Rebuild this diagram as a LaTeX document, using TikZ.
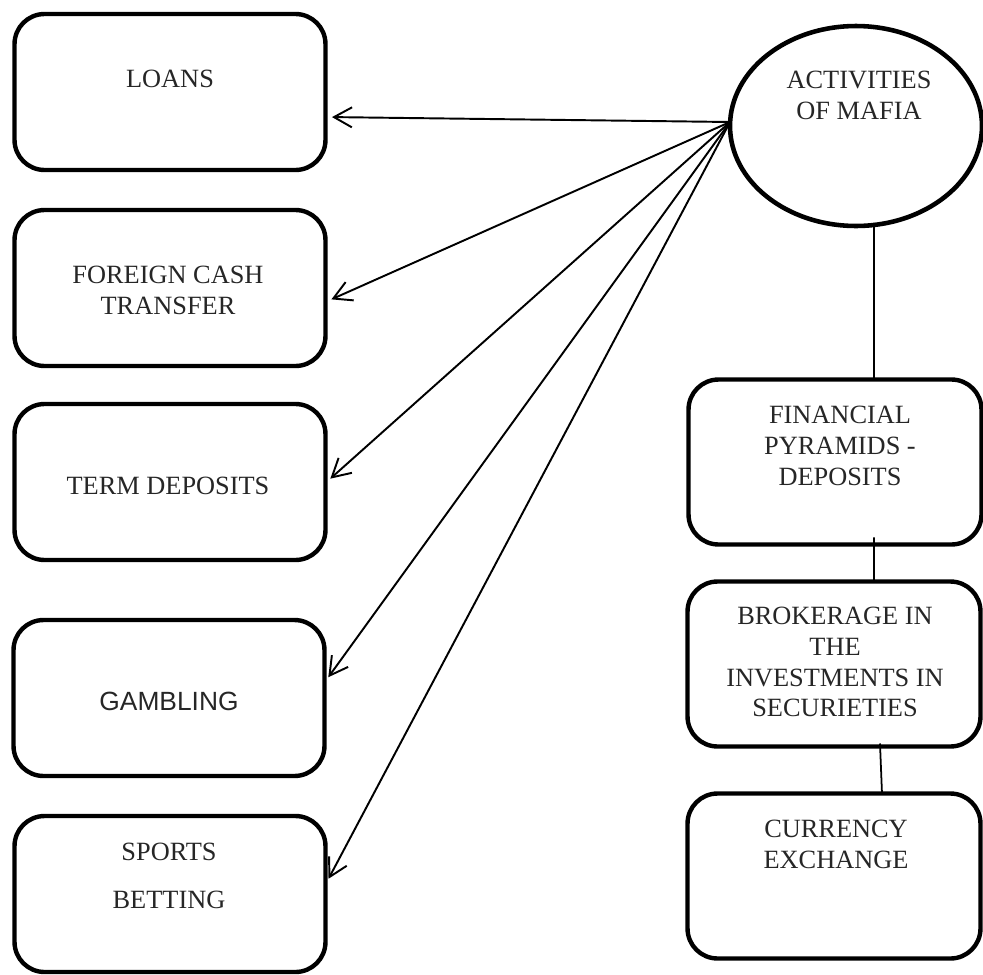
\documentclass[tikz,border=0pt]{standalone}
\usepackage{fontspec}
\setmainfont{Liberation Serif}
\newfontfamily\gamblefont{Liberation Sans}
\usetikzlibrary{arrows.meta, shapes.geometric}

\begin{document}
\begin{tikzpicture}[
    x=0.02cm, y=-0.02cm,
    box/.style={
	draw,
	line width=2.5pt,
	rounded corners=0.6cm,
	outer sep=0pt,
	minimum width=6.22cm,
	minimum height=3.12cm
    },
    rbox/.style={
	box,
	minimum width=5.86cm,
	minimum height=3.3cm
    },
    txt/.style={
	align=center,
	inner sep=0pt,
	text=black!85,
	font=\fontsize{15pt}{17.6pt}\selectfont
    },
    feed/.style={->, line width=1.1pt, shorten >=0.13cm},
    link/.style={line width=1pt},
    >={Straight Barb[length=0.36cm,width=0.4cm]}
]
	\useasboundingbox (0,0) rectangle (983,974);

	% Activities of mafia
	\node[draw, ellipse, line width=2.6pt, inner sep=0pt, outer sep=0pt,
	    minimum width=5.04cm, minimum height=4cm] (mafia) at (856,126) {};
	\node[txt] (mafiatxt) at (859,95) {ACTIVITIES\\OF MAFIA};

	% Left column
	\node[box] (loans) at (170,92) {};
	\node[txt] (loanstxt) at (170,79) {LOANS};

	\node[box] (foreign) at (170,288) {};
	\node[txt] (foreigntxt) at (168,290) {FOREIGN CASH\\TRANSFER};

	\node[box] (term) at (170,482) {};
	\node[txt] (termtxt) at (168,486) {TERM DEPOSITS};

	\node[box] (gambling) at (169,698) {};
	\node[txt, font=\gamblefont\fontsize{15pt}{17.6pt}\selectfont] (gamblingtxt)
	    at (169,701) {GAMBLING};

	\node[box] (sports) at (170,894) {};
	\node[txt] (sportstxt) at (169,876) {SPORTS\\[9.6pt]BETTING};

	% Right column
	\node[rbox] (pyramids) at (835,462) {};
	\node[txt] (pyramidstxt) at (840,446) {FINANCIAL\\PYRAMIDS -\\DEPOSITS};

	\node[rbox] (brokerage) at (834,664) {};
	\node[txt] (brokeragetxt) at (835,662)
	    {BROKERAGE IN\\THE\\INVESTMENTS IN\\SECURIETIES};

	\node[rbox] (currency) at (834,876) {};
	\node[txt] (currencytxt) at (836,844) {CURRENCY\\EXCHANGE};

	% Mafia -> left boxes
	\coordinate (hub) at ([yshift=0.08cm]mafia.west);

	\draw[feed] (hub) -- ([yshift=-0.5cm]loans.east);
	\draw[feed] (hub) -- ([yshift=-0.28cm]foreign.east);
	\draw[feed] (hub) -- ([yshift=-0.02cm]term.east);
	\draw[feed] (hub) -- ([yshift=0.31cm]gambling.east);
	\draw[feed] (hub) -- ([yshift=0.19cm]sports.east);

	% Mafia -- right column
	\draw[link] ([xshift=0.36cm,yshift=0.06cm]mafia.south)
	    -- ([xshift=0.78cm]pyramids.north);
	\draw[link] ([xshift=0.78cm,yshift=0.14cm]pyramids.south)
	    -- ([xshift=0.8cm]brokerage.north);
	\draw[link] ([xshift=0.92cm,yshift=0.06cm]brokerage.south)
	    -- ([xshift=0.96cm]currency.north);
\end{tikzpicture}
\end{document}
